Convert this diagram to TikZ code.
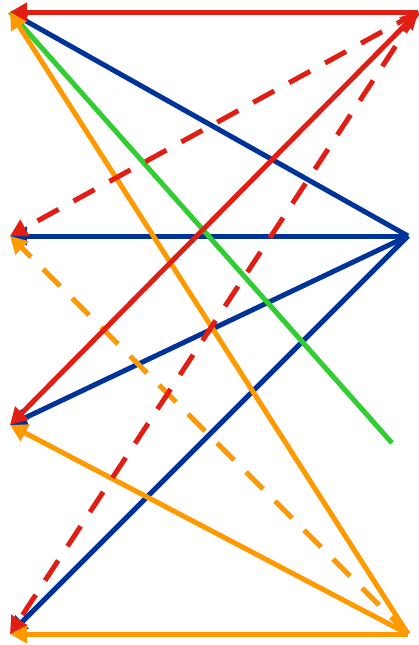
\documentclass[tikz,border=0pt]{standalone}
\usetikzlibrary{arrows.meta}
\definecolor{fRed}{RGB}{224,30,20}
\definecolor{fBlue}{RGB}{0,51,153}
\definecolor{fGreen}{RGB}{50,205,50}
\definecolor{fOrange}{RGB}{255,153,0}
\tikzset{
  flow/.style={line width=5pt,-{Triangle[length=17pt,width=18pt]}},
  flowdash/.style={flow,dash pattern=on 24pt off 17pt},
}

\begin{document}
\begin{tikzpicture}[x=1pt,y=-1pt]
  \useasboundingbox (0,0) rectangle (419,645);
  % left column
  \coordinate (L1) at (10,12);
  \coordinate (L2) at (10,236);
  \coordinate (L3) at (10,425);
  \coordinate (L4) at (10,634);
  % right column
  \coordinate (R1) at (418,12);
  \coordinate (R2) at (408,236);
  \coordinate (R4) at (408,634);
  \coordinate (G) at (392,443);
  % blue fan
  \foreach \t in {L1,L2,L3,L4}
    \draw[flow,fBlue] (R2) -- (\t);
  \draw[line width=5pt,fGreen] (L1) -- (G);
  % orange fan
  \draw[flowdash,fOrange] (R4) -- (L2);
  \foreach \t in {L1,L3,L4}
    \draw[flow,fOrange] (R4) -- (\t);
  % red
  \draw[flow,fRed] (R1) -- (L1);
  \draw[flow,fRed,{Triangle[length=17pt,width=18pt]}-{Triangle[length=17pt,width=18pt]}] (L3) -- (R1);
  \draw[flowdash,fRed] (R1) -- (L2);
  \draw[flowdash,fRed] (R1) -- (L4);
\end{tikzpicture}
\end{document}
